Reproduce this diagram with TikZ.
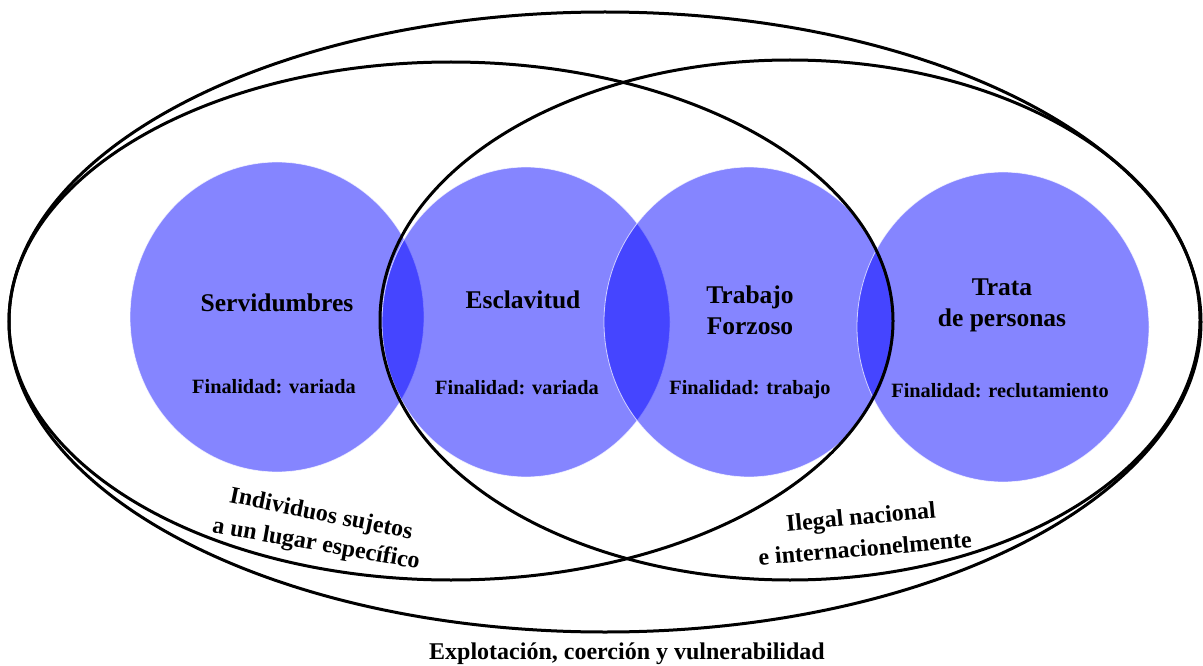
\documentclass[tikz,border=0pt]{standalone}
\usepackage{fontspec}
\setmainfont{Liberation Serif}
\begin{document}
\begin{tikzpicture}[x=1pt,y=-1pt,
  venn/.style={fill=blue, fill opacity=0.48, draw=white, draw opacity=0.7, line width=0.8pt},
  ring/.style={draw=black, line width=3pt},
  ttl/.style={font=\fontsize{25.5}{31}\selectfont\bfseries, align=center, inner sep=0pt},
  fin/.style={font=\fontsize{20.3}{24}\selectfont\bfseries, inner sep=0pt},
  lbl/.style={font=\fontsize{24}{28}\selectfont\bfseries, inner sep=0pt}]
\useasboundingbox (0,0) rectangle (1203,666);
\fill[white] (0,0) rectangle (1203,666);
% circles
\path[venn] (277,317) ellipse [x radius=147, y radius=155];
\path[venn] (526,322) ellipse [x radius=144, y radius=155];
\path[venn] (749,322) ellipse [x radius=145, y radius=155];
\path[venn] (1003,327) ellipse [x radius=146, y radius=155];
% ellipses
\draw[ring] (605,322) ellipse [x radius=596, y radius=310];
\draw[ring] (451,321) ellipse [x radius=442, y radius=259];
\draw[ring] (790,320) ellipse [x radius=410, y radius=260];
% texts
\node[ttl] (serv) at (277,303) {Servidumbres};
\node[fin] (fserv) at (274,387) {Finalidad: variada};
\node[ttl] (escl) at (523,300) {Esclavitud};
\node[fin] (fescl) at (517,388) {Finalidad: variada};
\node[ttl] (trab) at (750,310) {Trabajo\\Forzoso};
\node[fin] (ftrab) at (750,390) {Finalidad: trabajo};
\node[ttl] (trata) at (1002,305) {Trata\\de personas};
\node[fin] (ftrata) at (1000,391) {Finalidad: reclutamiento};
\node[lbl, rotate=-11.5] (indiv1) at (321,515) {Individuos sujetos};
\node[lbl, rotate=-10] (indiv2) at (316,545) {a un lugar específico};
\node[lbl, rotate=5.2] (ilegal1) at (861,519) {Ilegal nacional};
\node[lbl, rotate=4.8] (ilegal2) at (865,548) {e internacionelmente};
\node[lbl] (explo) at (627,654) {Explotación, coerción y vulnerabilidad};
\end{tikzpicture}
\end{document}
